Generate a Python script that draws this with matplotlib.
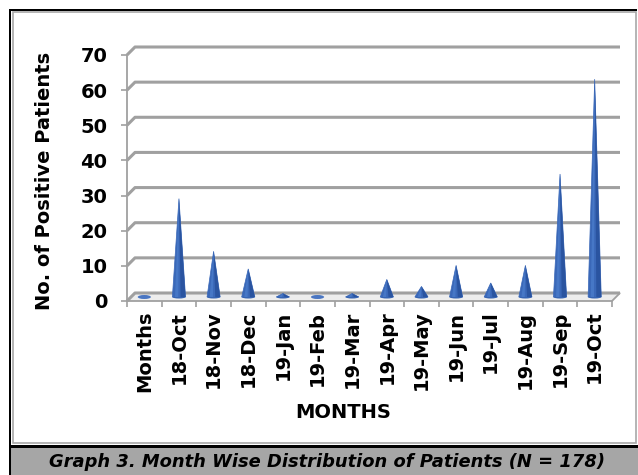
import numpy as np
import matplotlib.pyplot as plt
from matplotlib.patches import Polygon, Ellipse, Rectangle

# monthly counts of positive patients
months = ['Months', '18-Oct', '18-Nov', '18-Dec', '19-Jan', '19-Feb', '19-Mar',
          '19-Apr', '19-May', '19-Jun', '19-Jul', '19-Aug', '19-Sep', '19-Oct']
patients = [0, 28, 13, 8, 1, 0, 1, 5, 3, 9, 4, 9, 35, 62]
y_ticks = [0, 10, 20, 30, 40, 50, 60, 70]

W, H = 638, 475


def fx(x):
    return x / W


def fy(y):
    return 1 - y / H


fig = plt.figure(figsize=(W / 100, H / 100), dpi=100)

# outer frame, inner frame and caption band
fig.add_artist(Rectangle((fx(13), fy(443)), fx(636) - fx(13), fy(12) - fy(443),
                         transform=fig.transFigure, fill=False, ec='#a8a8a8', lw=1.2))
fig.add_artist(Rectangle((fx(10), fy(475)), fx(638) - fx(10), fy(447) - fy(475),
                         transform=fig.transFigure, fc='#a6a6a6', ec='none'))
fig.add_artist(Rectangle((fx(10), fy(448)), fx(638) - fx(10), fy(445) - fy(448),
                         transform=fig.transFigure, fc='black', ec='none'))
fig.add_artist(Rectangle((fx(9), fy(475)), fx(11) - fx(9), fy(9) - fy(475),
                         transform=fig.transFigure, fc='black', ec='none'))
fig.add_artist(Rectangle((fx(9), fy(11)), fx(637) - fx(9), fy(9) - fy(11),
                         transform=fig.transFigure, fc='black', ec='none'))

ax = fig.add_axes([fx(127), fy(301), fx(612) - fx(127), fy(55) - fy(301)])
n = len(months)
ax.set_xlim(-0.5, n - 0.5)
ax.set_ylim(0, 70)
for s in ax.spines.values():
    s.set_visible(False)
ax.patch.set_alpha(0)

# depth of the 3d box in data units (8 px back, 8 px up)
px_x = (612 - 127) / n
px_y = (301 - 55) / 70
DX = 8 / px_x
DY = 8 / px_y
grid_c = '#a0a0a0'

# floor
floor = Polygon([(-0.5, 0), (n - 0.5, 0), (n - 0.5 + DX, DY), (-0.5 + DX, DY)],
                closed=True, fc='#ededed', ec=grid_c, lw=1.3, clip_on=False, zorder=1)
ax.add_patch(floor)

# back wall gridlines
for v in y_ticks:
    ax.plot([-0.5, -0.5 + DX, n - 0.5 + DX], [v, v + DY, v + DY],
            color=grid_c, lw=2.2, clip_on=False, zorder=1, solid_capstyle='butt')
ax.plot([-0.5, -0.5], [0, 70], color=grid_c, lw=1.3, clip_on=False, zorder=1)

# cones: solid body, a darker right flank and a lighter left strip
w = 0.19
base = DY / 2
for i, v in enumerate(patients):
    if v == 0:
        ax.add_patch(Ellipse((i, base), 2 * w, 4 / px_y, fc='#4a76c2', ec='none',
                             clip_on=False, zorder=3))
        continue
    tip = (i, base + v)
    ax.add_patch(Ellipse((i, base), 2 * w, 3 / px_y, fc='#3462b0', ec='none',
                         clip_on=False, zorder=2.9))
    ax.add_patch(Polygon([(i - w, base), (i + w, base), tip], closed=True,
                         fc='#3a68b8', ec='#3a68b8', lw=0.5, clip_on=False, zorder=3))
    ax.add_patch(Polygon([(i + 0.25 * w, base), (i + w, base), tip], closed=True,
                         fc='#2a54a0', ec='none', clip_on=False, zorder=3.1))
    ax.add_patch(Polygon([(i - 0.6 * w, base), (i - 0.1 * w, base), tip], closed=True,
                         fc='#4677c6', ec='none', clip_on=False, zorder=3.1))

ax.set_yticks(y_ticks)
ax.set_yticklabels([str(t) for t in y_ticks], fontsize=14, fontweight='bold')
ax.set_xticks(np.arange(n))
ax.set_xticklabels(months, rotation=90, fontsize=14, fontweight='bold')
ax.set_xticks(np.arange(n + 1) - 0.5, minor=True)
ax.tick_params(axis='x', which='major', length=0, pad=7)
ax.tick_params(axis='x', which='minor', length=4.5, color=grid_c, width=1.2)
ax.tick_params(axis='y', length=4, color=grid_c, width=1.2, pad=10)

fig.text(fx(45), fy(181), 'No. of Positive Patients', rotation=90, fontsize=14,
         fontweight='bold', ha='center', va='center')
fig.text(fx(343), fy(412), 'MONTHS', fontsize=14, fontweight='bold',
         ha='center', va='center')
fig.text(fx(327), fy(462), 'Graph 3. Month Wise Distribution of Patients (N = 178)',
         fontsize=12.9, fontweight='bold', style='italic', ha='center', va='center')

fig.savefig('out.png', dpi=100)
